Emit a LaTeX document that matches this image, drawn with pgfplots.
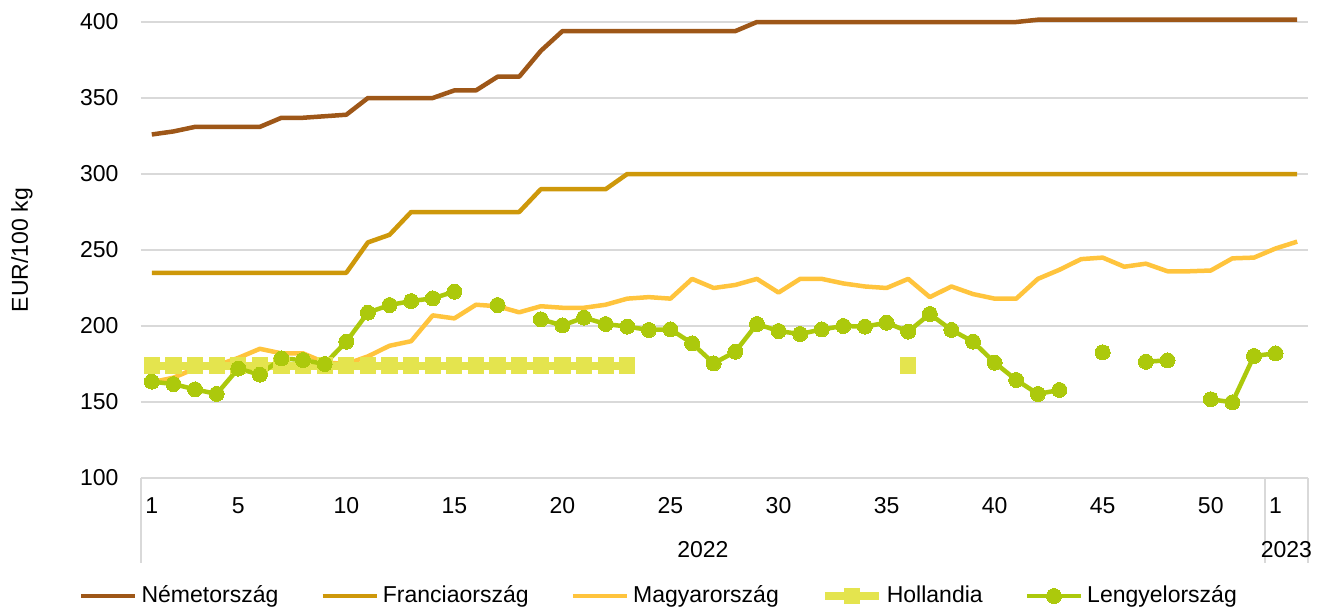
\documentclass[border=0pt]{standalone}
\usepackage{fontspec}
\setmainfont{Liberation Sans}
\usepackage{pgfplots}
\pgfplotsset{compat=1.18}
\usepackage{pgfplotstable}

\definecolor{cDE}{RGB}{158,87,24}
\definecolor{cFR}{RGB}{206,152,10}
\definecolor{cHU}{RGB}{255,196,61}
\definecolor{cNL}{RGB}{228,228,78}
\definecolor{cPL}{RGB}{172,201,12}
\definecolor{cGrid}{RGB}{217,217,217}

\pgfplotstableread{
w  DE    FR   HU     NL   PL
1  326   235  163    174  163.4
2  328   235  166    174  161.8
3  331   235  172    174  158.3
4  331   235  174    174  155.3
5  331   235  179    174  172.0
6  331   235  185    174  168.0
7  337   235  182    174  178.7
8  337   235  182    174  177.6
9  338   235  176    174  175.0
10 339   235  175    174  189.7
11 350   255  180    174  208.8
12 350   260  187    174  213.8
13 350   275  190    174  216.4
14 350   275  207    174  218.2
15 355   275  205    174  222.6
16 355   275  214    174  nan
17 364   275  213    174  213.8
18 364   275  209    174  nan
19 381   290  213    174  204.4
20 394   290  212    174  200.4
21 394   290  212    174  205.5
22 394   290  214    174  201.3
23 394   300  218    174  199.6
24 394   300  219    nan  197.4
25 394   300  218    nan  197.8
26 394   300  231    nan  188.6
27 394   300  225    nan  175.4
28 394   300  227    nan  183.1
29 400   300  231    nan  201.3
30 400   300  222    nan  196.7
31 400   300  231    nan  194.7
32 400   300  231    nan  197.8
33 400   300  228    nan  200.0
34 400   300  226    nan  199.6
35 400   300  225    nan  202.2
36 400   300  231    174  196.3
37 400   300  219    nan  207.9
38 400   300  226    nan  197.4
39 400   300  221    nan  189.7
40 400   300  218    nan  175.9
41 400   300  218    nan  164.5
42 401.5 300  231    nan  155.3
43 401.5 300  237    nan  157.9
44 401.5 300  244    nan  nan
45 401.5 300  245    nan  182.7
46 401.5 300  239    nan  nan
47 401.5 300  241    nan  176.5
48 401.5 300  236    nan  177.4
49 401.5 300  236    nan  nan
50 401.5 300  236.5  nan  151.8
51 401.5 300  244.5  nan  149.8
52 401.5 300  245    nan  180.3
53 401.5 300  251    nan  182.0
54 401.5 300  255.5  nan  nan
}\data

\begin{document}
\begin{tikzpicture}[font=\fontsize{11.5}{13.8}\selectfont]
\path[use as bounding box] (-70.5pt,-66.5pt) rectangle (593pt,239pt);
\begin{axis}[
  at={(0pt,0pt)}, anchor=south west,
  scale only axis, width=583.5pt, height=228pt,
  xmin=0.5, xmax=54.5, ymin=100, ymax=400,
  ytick={100,150,...,400},
  xtick={1,5,10,15,20,25,30,35,40,45,50,53},
  xticklabels={1,5,10,15,20,25,30,35,40,45,50,1},
  ymajorgrids, grid style={cGrid, line width=0.75pt},
  axis line style={draw=none},
  tick style={draw=none},
  /pgf/number format/assume math mode=true,
  tick label style={font=\fontsize{11.5}{13.8}\selectfont},
  yticklabel style={xshift=-7.7pt},
  xticklabel style={anchor=center, yshift=-14pt},
  ylabel={EUR/100 kg},
  every axis y label/.style={at={(axis description cs:0,0.5)}, xshift=-59.5pt, rotate=90, anchor=center, font=\fontsize{11.5}{13.8}\selectfont},
  clip=false,
  unbounded coords=jump,
  legend columns=5,
  legend style={at={(axis description cs:0.4447,-0.2588)}, anchor=center, draw=none, fill=none,
    font=\fontsize{11.5}{13.8}\selectfont,
    /tikz/every even column/.append style={column sep=19pt},
    nodes={inner sep=2pt}},
  legend image code/.code={\draw[mark repeat=2,mark phase=2,#1] plot coordinates {(0pt,0pt) (13.5pt,0pt) (27pt,0pt)};},
  line join=round,
]
\addplot[cDE, line width=2.25pt, mark=none] table[x=w,y=DE] {\data};
\addlegendentry{Németország}
\addplot[cFR, line width=2.25pt, mark=none] table[x=w,y=FR] {\data};
\addlegendentry{Franciaország}
\addplot[cHU, line width=2.25pt, mark=none] table[x=w,y=HU] {\data};
\addlegendentry{Magyarország}
\addplot[cNL, line width=4pt, mark=square*, mark size=3.8pt, mark options={fill=cNL, draw=cNL, line width=0pt}] table[x=w,y=NL] {\data};
\addlegendentry{Hollandia}
\addplot[cPL, line width=2.25pt, mark=*, mark size=3.75pt, mark options={fill=cPL, draw=cPL, line width=0pt}] table[x=w,y=PL] {\data};
\addlegendentry{Lengyelország}

\draw[cGrid, line width=0.75pt] (axis cs:0.5,100) -- ++(0pt,-42.5pt);
\draw[cGrid, line width=0.75pt] (axis cs:52.5,100) -- ++(0pt,-42.5pt);
\draw[cGrid, line width=0.75pt] (axis cs:54.5,100) -- ++(0pt,-42.5pt);
\node at (axis cs:26.5,100) [yshift=-36pt] {2022};
\node at (axis cs:53.5,100) [yshift=-36pt] {2023};
\end{axis}
\end{tikzpicture}
\end{document}
